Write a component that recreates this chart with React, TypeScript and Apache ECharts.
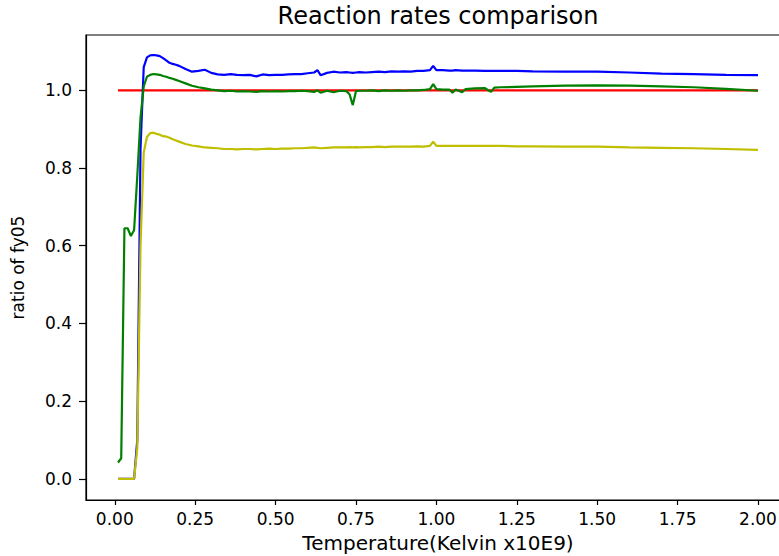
import React, { useEffect, useRef } from "react";
import * as echarts from "echarts";

const temps = [
  0.01, 0.02, 0.03, 0.04, 0.05, 0.06, 0.07, 0.08, 0.09, 0.10,
  0.11, 0.12, 0.13, 0.14, 0.15, 0.16, 0.17, 0.18, 0.19, 0.20,
  0.22, 0.24, 0.26, 0.28, 0.30, 0.32, 0.34, 0.36, 0.38, 0.40,
  0.42, 0.44, 0.46, 0.48, 0.50, 0.52, 0.54, 0.56, 0.58, 0.60,
  0.62, 0.63, 0.64, 0.66, 0.68, 0.70, 0.72, 0.73, 0.74, 0.75,
  0.76, 0.78, 0.80, 0.82, 0.84, 0.86, 0.88, 0.90, 0.92, 0.94,
  0.96, 0.98, 0.99, 1.00, 1.02, 1.04, 1.05, 1.06, 1.08, 1.09,
  1.10, 1.12, 1.15, 1.17, 1.18, 1.20, 1.25, 1.30, 1.40, 1.50,
  1.60, 1.70, 1.80, 1.90, 2.00,
];

const blueRatio = [
  0, 0, 0, 0, 0, 0, 0.1, 0.85, 1.06, 1.085,
  1.09, 1.091, 1.09, 1.088, 1.083, 1.077, 1.071, 1.068, 1.066, 1.063,
  1.055, 1.048, 1.05, 1.053, 1.045, 1.041, 1.04, 1.042, 1.04, 1.039,
  1.04, 1.036, 1.041, 1.039, 1.04, 1.04, 1.041, 1.042, 1.042, 1.044,
  1.046, 1.052, 1.039, 1.045, 1.048, 1.046, 1.047, 1.046, 1.045, 1.046,
  1.047, 1.046, 1.047, 1.048, 1.047, 1.049, 1.048, 1.049, 1.048, 1.05,
  1.05, 1.052, 1.063, 1.052, 1.052, 1.051, 1.051, 1.052, 1.051, 1.051,
  1.051, 1.051, 1.05, 1.05, 1.05, 1.05, 1.05, 1.049, 1.048, 1.048,
  1.046, 1.043, 1.042, 1.04, 1.039,
];

const greenRatio = [
  0.042, 0.053, 0.645, 0.645, 0.625, 0.64, 0.78, 0.93, 1.01, 1.035,
  1.04, 1.042, 1.041, 1.04, 1.037, 1.035, 1.032, 1.03, 1.027, 1.024,
  1.018, 1.012, 1.008, 1.005, 1.002, 1.0, 0.998, 0.999, 0.997, 0.998,
  0.997, 0.996, 0.998, 0.997, 0.998, 0.997, 0.998, 0.998, 0.999, 0.998,
  0.996, 1.0, 0.994, 0.999, 0.995, 0.999, 0.998, 0.99, 0.962, 0.998,
  0.999, 0.999, 1.0, 0.998, 1.0, 0.999, 1.0, 0.999, 1.0, 1.0,
  1.001, 1.003, 1.016, 1.003, 1.002, 1.002, 0.994, 1.002, 0.995, 1.003,
  1.004, 1.005, 1.006, 0.996, 1.007, 1.008, 1.009, 1.01, 1.012, 1.013,
  1.012, 1.01, 1.008, 1.004, 0.999,
];

const yellowRatio = [
  0, 0, 0, 0, 0, 0, 0.08, 0.6, 0.84, 0.88,
  0.89, 0.891, 0.888, 0.886, 0.882, 0.881, 0.878, 0.874, 0.871, 0.868,
  0.862, 0.858, 0.856, 0.853, 0.852, 0.851, 0.849, 0.849, 0.848, 0.849,
  0.849, 0.848, 0.849, 0.85, 0.849, 0.85, 0.85, 0.851, 0.851, 0.852,
  0.853, 0.852, 0.851, 0.852, 0.853, 0.853, 0.853, 0.854, 0.853, 0.854,
  0.853, 0.854, 0.854, 0.855, 0.854, 0.855, 0.855, 0.855, 0.855, 0.856,
  0.855, 0.857, 0.868, 0.857, 0.857, 0.857, 0.857, 0.857, 0.857, 0.857,
  0.857, 0.857, 0.857, 0.857, 0.857, 0.857, 0.856, 0.856, 0.855, 0.855,
  0.853, 0.852, 0.851, 0.849, 0.847,
];

const redX = [0.01, 2.0];
const redRatio = [1.0, 1.0];

const xTicks = [0, 0.25, 0.5, 0.75, 1.0, 1.25, 1.5, 1.75, 2.0];
const yTicks = [0, 0.2, 0.4, 0.6, 0.8, 1.0];

const FONT = "DejaVu Sans";

function pairs(xs: number[], ys: number[]) {
  return xs.map((x, i) => [x, ys[i]]);
}

export default function App() {
  const ref = useRef<HTMLDivElement>(null);
  useEffect(() => {
    if (!ref.current) return;
    const chart = echarts.init(ref.current, null, { renderer: "svg" });
    const lineSeries = (name: string, data: number[][], color: string) => ({
      name,
      type: "line",
      data,
      showSymbol: false,
      symbol: "none",
      lineStyle: { color, width: 2.2 },
      itemStyle: { color },
    });
    chart.setOption({
      animation: false,
      backgroundColor: "#ffffff",
      title: {
        text: "Reaction rates comparison",
        left: 438,
        textAlign: "center",
        top: 4,
        padding: 0,
        textStyle: { fontFamily: FONT, fontSize: 24, fontWeight: "normal", color: "#000" },
      },
      grid: {
        left: 86,
        right: -11,
        top: 35,
        bottom: 56,
        show: true,
        borderColor: "#000",
        borderWidth: 1.2,
        backgroundColor: "transparent",
        containLabel: false,
        outerBoundsMode: "none",
      },
      xAxis: {
        type: "value",
        min: -0.0895,
        max: 2.0995,
        name: "Temperature(Kelvin x10E9)",
        nameLocation: "middle",
        nameGap: 33,
        nameTextStyle: { fontFamily: FONT, fontSize: 20, color: "#000" },
        splitLine: { show: false },
        axisLine: { show: true, onZero: false, lineStyle: { color: "#000", width: 1.2 } },
        axisTick: { show: true, length: 5, lineStyle: { color: "#000", width: 1.2 }, customValues: xTicks },
        axisLabel: {
          fontFamily: FONT,
          fontSize: 17,
          color: "#000",
          margin: 10,
          customValues: xTicks,
          formatter: (v: number) => v.toFixed(2),
        },
      },
      yAxis: {
        type: "value",
        min: -0.0545,
        max: 1.1425,
        name: "ratio of fy05",
        nameLocation: "middle",
        nameGap: 60,
        nameRotate: 90,
        nameTextStyle: { fontFamily: FONT, fontSize: 17, color: "#000" },
        splitLine: { show: false },
        axisLine: { show: true, onZero: false, lineStyle: { color: "#000", width: 1.2 } },
        axisTick: { show: true, length: 7, lineStyle: { color: "#000", width: 1.2 }, customValues: yTicks },
        axisLabel: {
          fontFamily: FONT,
          fontSize: 17,
          color: "#000",
          margin: 14,
          customValues: yTicks,
          formatter: (v: number) => v.toFixed(1),
        },
      },
      series: [
        lineSeries("red", pairs(redX, redRatio), "#ff0000"),
        lineSeries("blue", pairs(temps, blueRatio), "#0000ff"),
        lineSeries("green", pairs(temps, greenRatio), "#008000"),
        lineSeries("yellow", pairs(temps, yellowRatio), "#bfbf00"),
      ],
    });
    return () => chart.dispose();
  }, []);
  return (
    <div
      ref={ref}
      style={{ position: "fixed", left: 0, top: 0, width: 779, height: 556 }}
    />
  );
}
